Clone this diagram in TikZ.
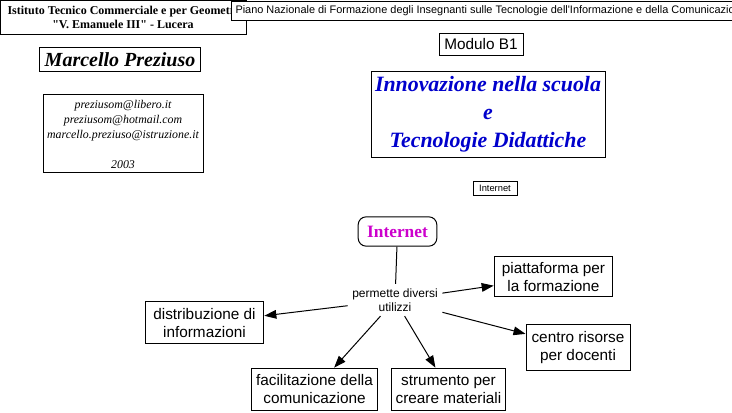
\documentclass[tikz,border=0pt]{standalone}
\usepackage{fontspec}
\setmainfont{Liberation Serif}[Ligatures=TeXOff]
\setsansfont{Liberation Sans}
\usetikzlibrary{arrows.meta,positioning}
\definecolor{titleblue}{RGB}{0,0,204}
\definecolor{netmagenta}{RGB}{204,0,204}

\begin{document}
\begin{tikzpicture}[
x=0.75pt, y=-0.75pt,
head/.style={draw, line width=0.75pt, inner sep=0pt, align=center},
box/.style={head, font=\sffamily\fontsize{11.5}{13.5}\selectfont},
arr/.style={-{Triangle[length=9pt,width=6.5pt]}, line width=0.75pt}
]
\useasboundingbox (0,0) rectangle (732,413);
\clip (0,0) rectangle (732,413);

\node[head, minimum width=184.5pt, minimum height=26pt, font=\bfseries\fontsize{9}{10.5}\selectfont] (istituto) at (123,17.5) {Istituto Tecnico Commerciale e per Geometri\\"V. Emanuele III" - Lucera};
\node[draw, fill=white, line width=0.75pt, anchor=north west, minimum height=14pt, inner xsep=3pt, inner ysep=0pt, font=\sffamily\fontsize{8.2}{9}\selectfont] (piano) at (231,1) {Piano Nazionale di Formazione degli Insegnanti sulle Tecnologie dell\textquotesingle Informazione e della Comunicazione};

\node[head, minimum width=121pt, minimum height=18pt, font=\bfseries\itshape\fontsize{15}{18}\selectfont] (autore) at (120,60) {Marcello Preziuso};
\node[head, minimum width=120pt, minimum height=58.5pt, font=\itshape\fontsize{8.9}{11.25}\selectfont] (contatti) at (123,134) {preziusom@libero.it\\preziusom@hotmail.com\\marcello.preziuso@istruzione.it\\[11.25pt]2003};

\node[head, minimum width=63pt, minimum height=16pt, font=\sffamily\fontsize{11.5}{13}\selectfont] (modulo) at (481,44.5) {Modulo B1};
\node[head, minimum width=175.5pt, minimum height=64pt, text=titleblue, font=\bfseries\itshape\fontsize{16.4}{21}\selectfont] (titolo) at (488,114.5) {Innovazione nella scuola\\e\\Tecnologie Didattiche};
\node[head, minimum width=33pt, minimum height=11pt, font=\sffamily\fontsize{7}{8}\selectfont] (etichetta) at (495,188.5) {Internet};

\node[head, rounded corners=6pt, minimum width=59pt, minimum height=22pt, text=netmagenta, font=\bfseries\fontsize{13}{15}\selectfont] (internet) at (397.5,231.5) {Internet};
\node[align=center, font=\sffamily\fontsize{9}{10.5}\selectfont] (usi) at (395,300) {permette diversi\\utilizzi};

\node[box, minimum width=89pt, minimum height=30pt] (piattaforma) at (553.5,277) {piattaforma per\\la formazione};
\node[box, minimum width=89pt, minimum height=31.5pt] (distribuzione) at (204.5,323) {distribuzione di\\informazioni};
\node[box, minimum width=78pt, minimum height=34pt] (centro) at (578,347.5) {centro risorse\\per docenti};
\node[box, minimum width=95pt, minimum height=32pt] (facilitazione) at (314.5,389.5) {facilitazione della\\comunicazione};
\node[box, minimum width=85pt, minimum height=32pt] (strumento) at (448.5,389.5) {strumento per\\creare materiali};

\draw[line width=0.75pt] (internet) -- (usi);
\draw[arr] (usi) -- (piattaforma);
\draw[arr] (usi) -- (distribuzione);
\draw[arr] (usi) -- (centro);
\draw[arr] (usi) -- (facilitazione);
\draw[arr] (usi) -- (strumento);
\end{tikzpicture}
\end{document}
